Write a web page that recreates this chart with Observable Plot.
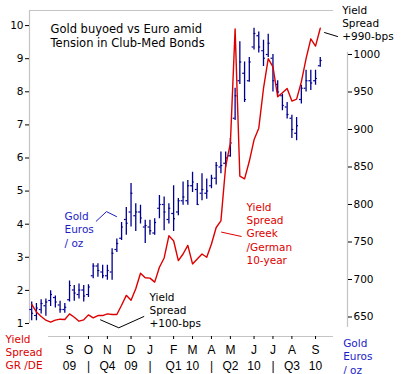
<!DOCTYPE html>
<html><head><meta charset="utf-8">
<script src="https://cdn.jsdelivr.net/npm/d3@7"></script>
<script src="https://cdn.jsdelivr.net/npm/@observablehq/plot@0.6"></script>
<style>body{margin:0;background:#fff;}</style>
</head><body><div id="chart"></div>
<script>
// ---- data (weekly, Sundays, starting 2009-07-12) ----
const firstWeek = "2009-07-12";
const spreadPct = [1.58,1.35,1.21,1.10,1.04,1.10,1.13,1.12,1.29,1.19,1.07,1.11,1.26,1.17,1.24,1.24,1.29,1.27,1.27,1.55,
  1.85,1.70,2.05,2.52,2.38,2.37,2.25,2.70,2.98,3.65,3.50,2.90,3.10,3.36,2.80,2.95,3.10,3.00,3.40,3.90,
  4.10,5.75,6.45,9.90,5.45,5.37,5.90,6.55,6.90,8.10,9.00,8.75,7.85,7.97,8.10,7.72,7.78,8.30,9.00,9.60,9.38,9.92];
const goldHigh = [670,668,673,674,685,678,671,668,698,692,694,692,693,721,721,719,719,741,754,776,
  796,828,801,799,779,779,781,812,810,801,825,808,830,832,843,828,841,834,839,856,
  870,870,888,955,1017,990,996,1035,1030,1019,1027,1000,965,947,936,919,916,959,979,979,979,996];
const goldLow = [645,645,654,651,664,662,655,655,670,671,674,670,676,701,703,701,699,699,736,752,
  759,770,764,774,748,759,759,781,765,774,764,785,799,799,816,799,805,807,821,826,
  841,849,863,912,960,936,963,1006,1002,984,996,950,943,925,914,888,885,934,950,952,959,983];
const goldOpen = [660,652,660,665,672,676,666,660,673,686,680,686,680,705,718,710,705,710,740,755,
  780,790,785,790,770,770,762,795,800,780,788,790,805,805,825,820,815,815,825,835,
  850,855,865,915,965,975,965,1010,1025,1005,1000,995,960,945,930,915,895,940,955,965,965,985];
const goldClose = [655,662,668,670,680,670,660,663,692,682,686,678,690,718,712,705,712,735,748,770,
  775,815,790,782,772,765,776,800,790,795,781,805,810,825,830,800,820,818,835,852,
  852,862,882,945,990,940,990,1028,1010,995,1015,965,950,932,920,900,905,955,965,962,968,992];
const monthTickDates = ["2009-09-06","2009-10-04","2009-11-01","2009-12-06","2010-01-03","2010-02-07","2010-03-07",
  "2010-04-04","2010-05-02","2010-06-06","2010-07-04","2010-08-01","2010-09-05"];
const monthLabels = ["S","O","N","D","J","F","M","A","M","J","J","A","S"];
const periodLabels = ["09","|","Q4","09","|","Q1","10","|","Q2","10","|","Q3","10"];
const spreadTicks = [1,2,3,4,5,6,7,8,9,10];
const goldTicks = [650,700,750,800,850,900,950,1000];
// annotation leader lines: [week offset from firstWeek, spread value]
const leaderGold = [[13.64,4.09],[15.81,4.38],[17.93,4.23]];
const leader100 = [[14.55,1.11],[18.41,0.87],[23.70,1.21]];
const leaderGreek = [[40.13,3.76],[44.29,3.63]];
const leader990 = [[61.90,9.79],[64.65,9.67]];

// ---- build ----
const DAY = 864e5;
const t0 = new Date(firstWeek + "T00:00:00Z");
const wk = w => new Date(+t0 + w * 7 * DAY);
const weeks = spreadPct.map((_, i) => wk(i));
const goldToV = d3.scaleLinear([650, 1000], [1.196, 9.127]);
const xDomain = [new Date("2009-07-08T18:00:00Z"), new Date("2010-10-01T14:00:00Z")];
const yDomain = [0.607, 10.456];
const gold = weeks.map((date, i) => ({date, hi: goldToV(goldHigh[i]), lo: goldToV(goldLow[i]),
  op: goldToV(goldOpen[i]), cl: goldToV(goldClose[i])}));
const spread = weeks.map((date, i) => ({date, v: spreadPct[i]}));
const tickDates = monthTickDates.map(s => new Date(s + "T00:00:00Z"));
const labelOf = new Map(tickDates.map((d, i) => [+d, monthLabels[i] + "\n" + periodLabels[i]]));
const toPts = arr => arr.map(([w, v]) => ({date: wk(w), v}));

const RED = "#dd0000", NAVY = "#00008f", BLUE = "#1c1cc8", GRAY = "#c4c4c4";
const FONT = "DejaVu Sans, Verdana, sans-serif";
const TICK = 2.8 * DAY;

const chart = Plot.plot({
  width: 401, height: 374,
  marginLeft: 29, marginRight: 68, marginTop: 10, marginBottom: 38,
  style: {fontFamily: FONT, fontSize: "10.5px", color: "#000", background: "#fff", overflow: "visible"},
  x: {type: "utc", domain: xDomain, axis: null},
  y: {type: "linear", domain: yDomain, axis: null},
  marks: [
    // frame
    Plot.ruleY([yDomain[1]], {stroke: GRAY, strokeWidth: 1.2}),
    Plot.ruleX([xDomain[0]], {y1: 1, y2: yDomain[1], stroke: GRAY, strokeWidth: 1.2}),
    Plot.ruleY([yDomain[0]], {x1: wk(3.55), x2: xDomain[1], stroke: GRAY, strokeWidth: 1.2}),
    Plot.ruleX([xDomain[1]], {y1: goldToV(636), y2: goldToV(1003), dx: 14, stroke: GRAY, strokeWidth: 1.2}),
    // axes
    Plot.axisY(spreadTicks, {anchor: "left", tickSize: 4, tickPadding: 2, fontSize: 10.5}),
    Plot.axisY(goldTicks.map(goldToV), {anchor: "right", dx: 14, tickSize: 4, tickPadding: 2, fontSize: 10.5,
      tickFormat: d => String(Math.round(goldToV.invert(d)))}),
    Plot.axisX(tickDates, {anchor: "bottom", tickSize: 3, tickPadding: 3, fontSize: 12, lineHeight: 1.33,
      fontFamily: "Liberation Sans, Arial, sans-serif", tickFormat: d => labelOf.get(+d)}),
    // gold OHLC bars
    Plot.ruleX(gold, {x: "date", y1: "lo", y2: "hi", stroke: NAVY, strokeWidth: 1.3}),
    Plot.ruleY(gold, {y: "op", x1: d => new Date(+d.date - TICK), x2: "date", stroke: NAVY, strokeWidth: 1.2}),
    Plot.ruleY(gold, {y: "cl", x1: "date", x2: d => new Date(+d.date + TICK), stroke: NAVY, strokeWidth: 1.2}),
    // spread line
    Plot.line(spread, {x: "date", y: "v", stroke: RED, strokeWidth: 1.4}),
    // leaders
    Plot.line(toPts(leaderGold), {x: "date", y: "v", stroke: BLUE, strokeWidth: 1}),
    Plot.line(toPts(leader100), {x: "date", y: "v", stroke: "#000", strokeWidth: 1}),
    Plot.line(toPts(leaderGreek), {x: "date", y: "v", stroke: RED, strokeWidth: 1}),
    Plot.line(toPts(leader990), {x: "date", y: "v", stroke: "#000", strokeWidth: 1}),
    // texts
    Plot.text(["Gold buyoed vs Euro amid\nTension in Club-Med Bonds"], {text: d => d, frameAnchor: "top-left",
      dx: 21, dy: 24.7, textAnchor: "start", lineAnchor: "middle", lineHeight: 1.22, fontSize: 11.5, fill: "#000"}),
    Plot.text(["Gold\nEuros\n/ oz"], {text: d => d, frameAnchor: "top-left", dx: 35, dy: 218.7,
      textAnchor: "start", lineAnchor: "middle", lineHeight: 1.25, fontSize: 10.5, fill: BLUE}),
    Plot.text(["Yield\nSpread\n+100-bps"], {text: d => d, frameAnchor: "top-left", dx: 120, dy: 299.3,
      textAnchor: "start", lineAnchor: "middle", lineHeight: 1.25, fontSize: 10.5, fill: "#000"}),
    Plot.text(["Yield\nSpread\nGreek\n/German\n10-year"], {text: d => d, frameAnchor: "top-left", dx: 217, dy: 222.7,
      textAnchor: "start", lineAnchor: "middle", lineHeight: 1.25, fontSize: 10.5, fill: RED}),
    Plot.text(["Yield\nSpread\n+990-bps"], {text: d => d, frameAnchor: "top-right", dx: 8.7, dy: 12.3,
      textAnchor: "start", lineAnchor: "middle", lineHeight: 1.25, fontSize: 10.5, fill: "#000"}),
    Plot.text(["Yield\nSpread\nGR /DE"], {text: d => d, frameAnchor: "bottom-left", dx: -24, dy: 15.3,
      textAnchor: "start", lineAnchor: "middle", lineHeight: 1.25, fontSize: 10.5, fill: RED}),
    Plot.text(["Gold\nEuros\n/ oz"], {text: d => d, frameAnchor: "bottom-right", dx: 9.7, dy: 19.7,
      textAnchor: "start", lineAnchor: "middle", lineHeight: 1.25, fontSize: 10.5, fill: BLUE})
  ]
});
document.getElementById("chart").append(chart);
</script>
</body></html>
